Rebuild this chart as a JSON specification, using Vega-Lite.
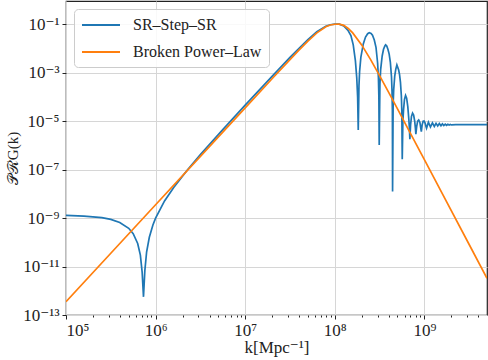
{
  "$schema": "https://vega.github.io/schema/vega-lite/v6.json",
  "width": 421,
  "height": 314,
  "autosize": {"type": "none"},
  "padding": {"left": 66, "top": 1, "right": 1, "bottom": 45},
  "config": {
    "font": "Liberation Serif, DejaVu Serif, serif",
    "view": {"stroke": "#222222", "strokeWidth": 1.2},
    "axis": {
      "gridColor": "#d6d6d6",
      "gridWidth": 1,
      "domain": false,
      "tickColor": "#222222",
      "labelColor": "#222222",
      "titleColor": "#222222",
      "labelFont": "Liberation Serif, DejaVu Serif, serif",
      "titleFont": "Liberation Serif, DejaVu Serif, serif",
      "labelFontSize": 17,
      "titleFontSize": 17,
      "titleFontWeight": "normal",
      "tickSize": 4,
      "labelPadding": 3
    },
    "legend": {
      "labelFont": "Liberation Serif, DejaVu Serif, serif",
      "labelFontSize": 16,
      "labelColor": "#222222"
    }
  },
  "datasets": {
    "ssr": [
      {"k": 1e5, "P": 1.285e-9, "series": "SR–Step–SR"},
      {"k": 1.585e5, "P": 1.211e-9, "series": "SR–Step–SR"},
      {"k": 2.512e5, "P": 1.038e-9, "series": "SR–Step–SR"},
      {"k": 3.162e5, "P": 8.831e-10, "series": "SR–Step–SR"},
      {"k": 3.981e5, "P": 6.622e-10, "series": "SR–Step–SR"},
      {"k": 5.012e5, "P": 3.776e-10, "series": "SR–Step–SR"},
      {"k": 5.623e5, "P": 2.254e-10, "series": "SR–Step–SR"},
      {"k": 6.31e5, "P": 8.93e-11, "series": "SR–Step–SR"},
      {"k": 6.761e5, "P": 2.951e-11, "series": "SR–Step–SR"},
      {"k": 7.079e5, "P": 5.888e-12, "series": "SR–Step–SR"},
      {"k": 7.328e5, "P": 5.623e-13, "series": "SR–Step–SR"},
      {"k": 7.586e5, "P": 6.761e-12, "series": "SR–Step–SR"},
      {"k": 7.943e5, "P": 4.074e-11, "series": "SR–Step–SR"},
      {"k": 8.511e5, "P": 1.622e-10, "series": "SR–Step–SR"},
      {"k": 9.333e5, "P": 5.164e-10, "series": "SR–Step–SR"},
      {"k": 1e6, "P": 9.908e-10, "series": "SR–Step–SR"},
      {"k": 1.259e6, "P": 5.082e-9, "series": "SR–Step–SR"},
      {"k": 1.585e6, "P": 1.803e-8, "series": "SR–Step–SR"},
      {"k": 2.239e6, "P": 9.268e-8, "series": "SR–Step–SR"},
      {"k": 3.162e6, "P": 4.14e-7, "series": "SR–Step–SR"},
      {"k": 5.623e6, "P": 4.467e-6, "series": "SR–Step–SR"},
      {"k": 1e7, "P": 4.571e-5, "series": "SR–Step–SR"},
      {"k": 1.995e7, "P": 7.079e-4, "series": "SR–Step–SR"},
      {"k": 3.162e7, "P": 4.266e-3, "series": "SR–Step–SR"},
      {"k": 5.012e7, "P": 2.344e-2, "series": "SR–Step–SR"},
      {"k": 6.31e7, "P": 4.9e-2, "series": "SR–Step–SR"},
      {"k": 7.943e7, "P": 8.3e-2, "series": "SR–Step–SR"},
      {"k": 8.913e7, "P": 0.0955, "series": "SR–Step–SR"},
      {"k": 1e8, "P": 0.1015, "series": "SR–Step–SR"},
      {"k": 1.122e8, "P": 0.1005, "series": "SR–Step–SR"},
      {"k": 1.259e8, "P": 8.5e-2, "series": "SR–Step–SR"},
      {"k": 1.413e8, "P": 5.4e-2, "series": "SR–Step–SR"},
      {"k": 1.514e8, "P": 3.388e-2, "series": "SR–Step–SR"},
      {"k": 1.607e8, "P": 1.413e-2, "series": "SR–Step–SR"},
      {"k": 1.698e8, "P": 3.162e-3, "series": "SR–Step–SR"},
      {"k": 1.758e8, "P": 6.31e-4, "series": "SR–Step–SR"},
      {"k": 1.799e8, "P": 1e-4, "series": "SR–Step–SR"},
      {"k": 1.828e8, "P": 4.365e-6, "series": "SR–Step–SR"},
      {"k": 1.862e8, "P": 2.951e-4, "series": "SR–Step–SR"},
      {"k": 1.892e8, "P": 1.096e-3, "series": "SR–Step–SR"},
      {"k": 1.954e8, "P": 4.266e-3, "series": "SR–Step–SR"},
      {"k": 2.08e8, "P": 1.549e-2, "series": "SR–Step–SR"},
      {"k": 2.203e8, "P": 2.951e-2, "series": "SR–Step–SR"},
      {"k": 2.328e8, "P": 4.074e-2, "series": "SR–Step–SR"},
      {"k": 2.427e8, "P": 4.467e-2, "series": "SR–Step–SR"},
      {"k": 2.541e8, "P": 4.169e-2, "series": "SR–Step–SR"},
      {"k": 2.636e8, "P": 3.548e-2, "series": "SR–Step–SR"},
      {"k": 2.761e8, "P": 2.239e-2, "series": "SR–Step–SR"},
      {"k": 2.884e8, "P": 1.122e-2, "series": "SR–Step–SR"},
      {"k": 3.006e8, "P": 2.512e-3, "series": "SR–Step–SR"},
      {"k": 3.069e8, "P": 6.31e-4, "series": "SR–Step–SR"},
      {"k": 3.105e8, "P": 1e-4, "series": "SR–Step–SR"},
      {"k": 3.133e8, "P": 1.047e-6, "series": "SR–Step–SR"},
      {"k": 3.192e8, "P": 3.467e-4, "series": "SR–Step–SR"},
      {"k": 3.251e8, "P": 1.349e-3, "series": "SR–Step–SR"},
      {"k": 3.381e8, "P": 4.898e-3, "series": "SR–Step–SR"},
      {"k": 3.499e8, "P": 9.333e-3, "series": "SR–Step–SR"},
      {"k": 3.622e8, "P": 1.288e-2, "series": "SR–Step–SR"},
      {"k": 3.69e8, "P": 1.413e-2, "series": "SR–Step–SR"},
      {"k": 3.802e8, "P": 1.259e-2, "series": "SR–Step–SR"},
      {"k": 3.926e8, "P": 9.12e-3, "series": "SR–Step–SR"},
      {"k": 4.046e8, "P": 5.888e-3, "series": "SR–Step–SR"},
      {"k": 4.169e8, "P": 2.754e-3, "series": "SR–Step–SR"},
      {"k": 4.295e8, "P": 6.761e-4, "series": "SR–Step–SR"},
      {"k": 4.355e8, "P": 1.738e-4, "series": "SR–Step–SR"},
      {"k": 4.395e8, "P": 2.818e-5, "series": "SR–Step–SR"},
      {"k": 4.416e8, "P": 1.259e-8, "series": "SR–Step–SR"},
      {"k": 4.482e8, "P": 5.129e-5, "series": "SR–Step–SR"},
      {"k": 4.545e8, "P": 1.995e-4, "series": "SR–Step–SR"},
      {"k": 4.667e8, "P": 7.244e-4, "series": "SR–Step–SR"},
      {"k": 4.792e8, "P": 1.38e-3, "series": "SR–Step–SR"},
      {"k": 4.932e8, "P": 2.089e-3, "series": "SR–Step–SR"},
      {"k": 5.164e8, "P": 1.288e-3, "series": "SR–Step–SR"},
      {"k": 5.284e8, "P": 8.318e-4, "series": "SR–Step–SR"},
      {"k": 5.408e8, "P": 3.981e-4, "series": "SR–Step–SR"},
      {"k": 5.534e8, "P": 1.122e-4, "series": "SR–Step–SR"},
      {"k": 5.598e8, "P": 2.818e-5, "series": "SR–Step–SR"},
      {"k": 5.662e8, "P": 2.692e-7, "series": "SR–Step–SR"},
      {"k": 5.754e8, "P": 1e-5, "series": "SR–Step–SR"},
      {"k": 5.861e8, "P": 3.162e-5, "series": "SR–Step–SR"},
      {"k": 5.998e8, "P": 7.943e-5, "series": "SR–Step–SR"},
      {"k": 6.166e8, "P": 1.148e-4, "series": "SR–Step–SR"},
      {"k": 6.339e8, "P": 8.913e-5, "series": "SR–Step–SR"},
      {"k": 6.531e8, "P": 3.981e-5, "series": "SR–Step–SR"},
      {"k": 6.699e8, "P": 1.259e-5, "series": "SR–Step–SR"},
      {"k": 6.808e8, "P": 5.012e-6, "series": "SR–Step–SR"},
      {"k": 6.887e8, "P": 1.82e-6, "series": "SR–Step–SR"},
      {"k": 7.015e8, "P": 7.079e-6, "series": "SR–Step–SR"},
      {"k": 7.178e8, "P": 1.585e-5, "series": "SR–Step–SR"},
      {"k": 7.379e8, "P": 2.138e-5, "series": "SR–Step–SR"},
      {"k": 7.586e8, "P": 1.778e-5, "series": "SR–Step–SR"},
      {"k": 7.798e8, "P": 1e-5, "series": "SR–Step–SR"},
      {"k": 7.943e8, "P": 5.012e-6, "series": "SR–Step–SR"},
      {"k": 8.035e8, "P": 2.884e-6, "series": "SR–Step–SR"},
      {"k": 8.222e8, "P": 6.31e-6, "series": "SR–Step–SR"},
      {"k": 8.414e8, "P": 1e-5, "series": "SR–Step–SR"},
      {"k": 8.65e8, "P": 1.122e-5, "series": "SR–Step–SR"},
      {"k": 8.913e8, "P": 8.913e-6, "series": "SR–Step–SR"},
      {"k": 9.12e8, "P": 5.012e-6, "series": "SR–Step–SR"},
      {"k": 9.247e8, "P": 3.715e-6, "series": "SR–Step–SR"},
      {"k": 9.441e8, "P": 7.079e-6, "series": "SR–Step–SR"},
      {"k": 9.683e8, "P": 1e-5, "series": "SR–Step–SR"},
      {"k": 9.908e8, "P": 1.023e-5, "series": "SR–Step–SR"},
      {"k": 1.019e9, "P": 8.318e-6, "series": "SR–Step–SR"},
      {"k": 1.042e9, "P": 6.026e-6, "series": "SR–Step–SR"},
      {"k": 1.057e9, "P": 5.129e-6, "series": "SR–Step–SR"},
      {"k": 1.109e9, "P": 9.12e-6, "series": "SR–Step–SR"},
      {"k": 1.169e9, "P": 5.754e-6, "series": "SR–Step–SR"},
      {"k": 1.23e9, "P": 8.511e-6, "series": "SR–Step–SR"},
      {"k": 1.291e9, "P": 6.026e-6, "series": "SR–Step–SR"},
      {"k": 1.349e9, "P": 8.128e-6, "series": "SR–Step–SR"},
      {"k": 1.409e9, "P": 6.31e-6, "series": "SR–Step–SR"},
      {"k": 1.469e9, "P": 7.943e-6, "series": "SR–Step–SR"},
      {"k": 1.531e9, "P": 6.457e-6, "series": "SR–Step–SR"},
      {"k": 1.589e9, "P": 7.762e-6, "series": "SR–Step–SR"},
      {"k": 1.648e9, "P": 6.607e-6, "series": "SR–Step–SR"},
      {"k": 1.71e9, "P": 7.586e-6, "series": "SR–Step–SR"},
      {"k": 1.77e9, "P": 6.761e-6, "series": "SR–Step–SR"},
      {"k": 1.828e9, "P": 7.413e-6, "series": "SR–Step–SR"},
      {"k": 1.888e9, "P": 6.918e-6, "series": "SR–Step–SR"},
      {"k": 1.95e9, "P": 7.328e-6, "series": "SR–Step–SR"},
      {"k": 2.009e9, "P": 6.998e-6, "series": "SR–Step–SR"},
      {"k": 2.239e9, "P": 7.161e-6, "series": "SR–Step–SR"},
      {"k": 3.162e9, "P": 7.161e-6, "series": "SR–Step–SR"},
      {"k": 5e9, "P": 7.161e-6, "series": "SR–Step–SR"}
    ],
    "bpl": [
      {"k": 1e5, "P": 3.548e-13, "series": "Broken Power–Law"},
      {"k": 3.162e5, "P": 3.548e-11, "series": "Broken Power–Law"},
      {"k": 1e6, "P": 3.548e-9, "series": "Broken Power–Law"},
      {"k": 3.162e6, "P": 3.548e-7, "series": "Broken Power–Law"},
      {"k": 1e7, "P": 3.548e-5, "series": "Broken Power–Law"},
      {"k": 1.995e7, "P": 5.623e-4, "series": "Broken Power–Law"},
      {"k": 3.162e7, "P": 3.491e-3, "series": "Broken Power–Law"},
      {"k": 3.981e7, "P": 8.551e-3, "series": "Broken Power–Law"},
      {"k": 5.012e7, "P": 2.028e-2, "series": "Broken Power–Law"},
      {"k": 6.31e7, "P": 4.4e-2, "series": "Broken Power–Law"},
      {"k": 7.943e7, "P": 7.9e-2, "series": "Broken Power–Law"},
      {"k": 8.913e7, "P": 0.0935, "series": "Broken Power–Law"},
      {"k": 1e8, "P": 0.1, "series": "Broken Power–Law"},
      {"k": 1.122e8, "P": 0.1005, "series": "Broken Power–Law"},
      {"k": 1.259e8, "P": 9.0e-2, "series": "Broken Power–Law"},
      {"k": 1.413e8, "P": 6.7e-2, "series": "Broken Power–Law"},
      {"k": 1.585e8, "P": 4.4e-2, "series": "Broken Power–Law"},
      {"k": 1.995e8, "P": 1.406e-2, "series": "Broken Power–Law"},
      {"k": 2.512e8, "P": 3.467e-3, "series": "Broken Power–Law"},
      {"k": 3.162e8, "P": 7.603e-4, "series": "Broken Power–Law"},
      {"k": 3.981e8, "P": 1.585e-4, "series": "Broken Power–Law"},
      {"k": 5.012e8, "P": 3.199e-5, "series": "Broken Power–Law"},
      {"k": 6.31e8, "P": 6.457e-6, "series": "Broken Power–Law"},
      {"k": 1e9, "P": 2.57e-7, "series": "Broken Power–Law"},
      {"k": 1.585e9, "P": 1.023e-8, "series": "Broken Power–Law"},
      {"k": 3.162e9, "P": 8.128e-11, "series": "Broken Power–Law"},
      {"k": 5e9, "P": 3.29e-12, "series": "Broken Power–Law"}
    ]
  },
  "resolve": {"axis": {"x": "independent"}},
  "layer": [
    {
      "data": {"name": "ssr"},
      "mark": {"type": "line", "strokeWidth": 1.7, "clip": true},
      "encoding": {
        "x": {
          "field": "k",
          "type": "quantitative",
          "scale": {"type": "log", "domain": [1e5, 5e9], "nice": false},
          "axis": {
            "orient": "bottom",
            "values": [1e5, 1e6, 1e7, 1e8, 1e9],
            "labelExpr": "'10' + (round(log(datum.value)/LN10) == 5 ? '⁵' : round(log(datum.value)/LN10) == 6 ? '⁶' : round(log(datum.value)/LN10) == 7 ? '⁷' : round(log(datum.value)/LN10) == 8 ? '⁸' : '⁹')",
            "title": "k[Mpc⁻¹]",
            "titlePadding": 1,
            "grid": true
          }
        },
        "y": {
          "field": "P",
          "type": "quantitative",
          "scale": {"type": "log", "domain": [1e-13, 0.912], "nice": false},
          "axis": {
            "values": [1e-13, 1e-11, 1e-9, 1e-7, 1e-5, 1e-3, 1e-1],
            "labelExpr": "'10' + (round(log(datum.value)/LN10) == -13 ? '⁻¹³' : round(log(datum.value)/LN10) == -11 ? '⁻¹¹' : round(log(datum.value)/LN10) == -9 ? '⁻⁹' : round(log(datum.value)/LN10) == -7 ? '⁻⁷' : round(log(datum.value)/LN10) == -5 ? '⁻⁵' : round(log(datum.value)/LN10) == -3 ? '⁻³' : '⁻¹')",
            "title": "𝒫ℛG(k)",
            "titleFontSize": 15,
            "titlePadding": 2,
            "grid": true
          }
        },
        "color": {
          "field": "series",
          "type": "nominal",
          "scale": {"domain": ["SR–Step–SR", "Broken Power–Law"], "range": ["#1f77b4", "#ff7f0e"]},
          "legend": {
            "title": null,
            "orient": "none",
            "legendX": 8,
            "legendY": 8,
            "symbolType": "M-1,0H3.75",
            "symbolSize": 256,
            "symbolStrokeWidth": 2,
            "labelOffset": 34,
            "fillColor": "rgba(255,255,255,0.85)",
            "strokeColor": "#cccccc",
            "cornerRadius": 4,
            "padding": 7,
            "rowPadding": 10
          }
        }
      }
    },
    {
      "data": {"name": "bpl"},
      "mark": {"type": "line", "strokeWidth": 1.7, "clip": true},
      "encoding": {
        "x": {
          "field": "k",
          "type": "quantitative",
          "axis": {
            "orient": "bottom",
            "values": [2e5, 3e5, 4e5, 5e5, 6e5, 7e5, 8e5, 9e5, 2e6, 3e6, 4e6, 5e6, 6e6, 7e6, 8e6, 9e6, 2e7, 3e7, 4e7, 5e7, 6e7, 7e7, 8e7, 9e7, 2e8, 3e8, 4e8, 5e8, 6e8, 7e8, 8e8, 9e8, 2e9, 3e9, 4e9],
            "labels": false,
            "grid": false,
            "tickSize": 2,
            "title": null
          }
        },
        "y": {"field": "P", "type": "quantitative"},
        "color": {"field": "series", "type": "nominal"}
      }
    }
  ]
}
